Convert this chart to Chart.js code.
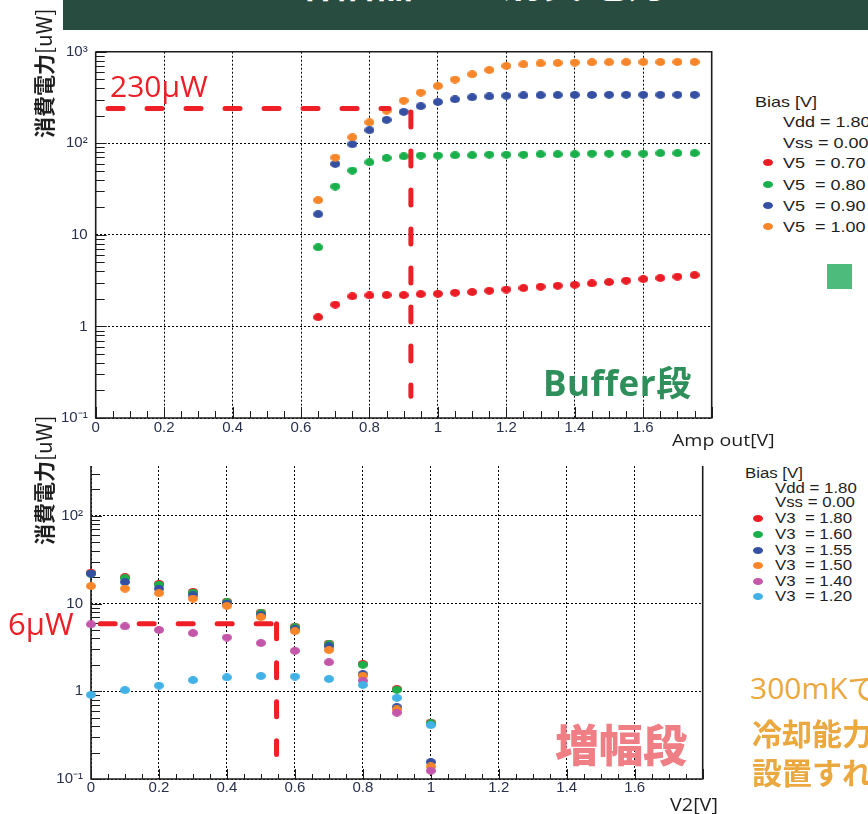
<!DOCTYPE html>
<html><head><meta charset="utf-8">
<script src="https://cdn.jsdelivr.net/npm/chart.js@4.4.1/dist/chart.umd.min.js"></script>
<style>
html,body{margin:0;padding:0;background:#fff;}
body{width:868px;height:814px;position:relative;overflow:hidden;font-family:"Liberation Sans",Arial,sans-serif;}
.abs{position:absolute;white-space:pre;}
canvas{position:absolute;left:0;}
#header{position:absolute;left:63px;top:0;width:805px;height:30px;background:#294c41;overflow:hidden;}
#header span{position:absolute;left:227px;top:-42px;font:bold 42px/1 "Noto Sans CJK JP";color:#fff;white-space:pre;}
.ytitle{transform:rotate(-90deg);transform-origin:left top;font:21px/24px "Noto Sans CJK JP";color:#1e1e1e;}
.ytitle b{font-weight:bold;}
.leg{font-family:"Liberation Sans",Arial,sans-serif;line-height:1;color:#1e1e1e;transform:scaleX(1.2);transform-origin:left center;}
.dot{position:absolute;border-radius:50%;}
</style></head>
<body>
<canvas id="top" width="740" height="445" style="top:0"></canvas>
<canvas id="bot" width="740" height="369" style="top:445px"></canvas>
<div id="header"><span>増幅器　の消費電力を</span></div>
<div id="overlay"></div>
<script>
// ================= DATA =================
// Buffer stage (top): x = Amp out [V], y = power [uW]
const ampOut = [0.65,0.70,0.75,0.80,0.85,0.90,0.95,1.00,1.05,1.10,1.15,1.20,1.25,1.30,1.35,1.40,1.45,1.50,1.55,1.60,1.65,1.70,1.75];
const bufV5_070 = [1.26,1.73,2.13,2.18,2.20,2.20,2.25,2.27,2.33,2.37,2.45,2.53,2.62,2.71,2.78,2.85,2.95,3.05,3.16,3.29,3.37,3.49,3.63];
const bufV5_080 = [7.3,33.7,50.3,62,69,72,73.4,73.4,74,74,75,75,75,76,76,76,77,77,77,77,78,78,78];
const bufV5_090 = [16.8,59.4,97.5,139,180,220,254,282,302,318,325,330,333,335,336,337,337,338,338,338,338,338,338];
const bufV5_100 = [23.9,69.8,116,169,227,292,357,422,496,566,631,698,728,745,752,760,765,767,768,770,770,771,772];
const bufferSeriesLabels = ['V5  = 0.70','V5  = 0.80','V5  = 0.90','V5  = 1.00'];

// Amplifier stage (bottom): x = V2 [V], y = power [uW]
const v2 = [0,0.1,0.2,0.3,0.4,0.5,0.6,0.7,0.8,0.9,1.0];
const ampV3_180 = [22.5,20.0,16.8,13.6,10.5,7.9,5.45,3.5,2.05,1.06,0.44];
const ampV3_160 = [22.0,19.5,16.4,13.3,10.3,7.76,5.34,3.42,2.0,1.04,0.43];
const ampV3_155 = [21.9,17.6,14.8,12.4,10.0,7.4,5.1,3.24,1.57,0.66,0.156];
const ampV3_150 = [15.8,14.8,13.1,11.4,9.4,7.0,4.84,2.95,1.5,0.62,0.139];
const ampV3_140 = [5.8,5.5,5.0,4.6,4.1,3.54,2.89,2.14,1.32,0.57,0.124];
const ampV3_120 = [0.91,1.03,1.16,1.34,1.44,1.49,1.47,1.38,1.18,0.84,0.41];
const ampSeriesLabels = ['V3  = 1.80','V3  = 1.60','V3  = 1.55','V3  = 1.50','V3  = 1.40','V3  = 1.20'];

const biasLines = ['Vdd = 1.80','Vss = 0.00'];

// Axis ticks
const xTickValues = [0,0.05,0.1,0.15,0.2,0.25,0.3,0.35,0.4,0.45,0.5,0.55,0.6,0.65,0.7,0.75,0.8,0.85,0.9,0.95,1.0,1.05,1.1,1.15,1.2,1.25,1.3,1.35,1.4,1.45,1.5,1.55,1.6,1.65,1.7,1.75,1.8];
const xLabelValues = [0,0.2,0.4,0.6,0.8,1.0,1.2,1.4,1.6];
const xTickLabels = ['0','0.2','0.4','0.6','0.8','1','1.2','1.4','1.6'];
const yTickValuesTop = [0.1,0.2,0.3,0.4,0.5,0.6,0.7,0.8,0.9,1,2,3,4,5,6,7,8,9,10,20,30,40,50,60,70,80,90,100,200,300,400,500,600,700,800,900,1000];
const yTickValuesBot = [0.1,0.2,0.3,0.4,0.5,0.6,0.7,0.8,0.9,1,2,3,4,5,6,7,8,9,10,20,30,40,50,60,70,80,90,100,200,300];
const yDecadeValues = [0.1,1,10,100,1000];
const yDecadeLabels = ['10⁻¹','1','10','10²','10³'];

// Reference markers (red dashed guides)
const bufferGuideLevel = 240;            // uW
const bufferGuideRange = [0.036,0.857];  // V
const bufferGuideVolt = 0.921;           // V
const bufferGuideDrop = [220,0.173];     // uW
const ampGuideLevel = 5.9;
const ampGuideRange = [0.027,0.553];
const ampGuideVolt = 0.546;
const ampGuideDrop = [5.9,0.19];

// ================= STYLE =================
const COLORS_BUF = ['#ec1c24','#19b04b','#3550a3','#f7862a'];
const COLORS_AMP = ['#ec1c24','#19b04b','#3550a3','#f7862a','#c456a9','#41b1e6'];
const GUIDE = '#ee1f26';
const TICK_COLOR = '#28304c';

function dotImg(color){
  const c=document.createElement('canvas'); c.width=10; c.height=8;
  const g=c.getContext('2d'); g.fillStyle=color; g.beginPath();
  g.ellipse(5,4,5,3.9,0,0,Math.PI*2); g.fill(); return c;
}
const isDecade = v => Math.abs(Math.log10(v)-Math.round(Math.log10(v)))<1e-6;
const isMajorX = v => Math.abs(v*5-Math.round(v*5))<1e-6;

const rootFrame = {
  id:'rootFrame',
  beforeDatasetsDraw(chart,args,o){
    const {ctx,chartArea:a}=chart; const x=chart.scales.x, y=chart.scales.y;
    ctx.save(); ctx.strokeStyle='#1c1c1c'; ctx.lineWidth=1; ctx.beginPath();
    y.ticks.forEach(t=>{ const py=Math.round(y.getPixelForValue(t.value))+0.5;
      if(py<a.top-1||py>a.bottom+1) return;
      const L=isDecade(t.value)?o.yMajor:o.yMinor; ctx.moveTo(a.left,py); ctx.lineTo(a.left+L,py);});
    x.ticks.forEach(t=>{ const px=Math.round(x.getPixelForValue(t.value))+0.5;
      const L=isMajorX(t.value)?o.xMajor:o.xMinor; ctx.moveTo(px,a.bottom); ctx.lineTo(px,a.bottom-L);});
    ctx.stroke();
    ctx.lineWidth=1.6; ctx.beginPath();
    ctx.moveTo(a.left,a.top); ctx.lineTo(a.left,a.bottom); ctx.lineTo(a.right,a.bottom); ctx.lineTo(a.right,a.top);
    if(o.top) ctx.lineTo(a.left,a.top);
    ctx.stroke(); ctx.restore();
  }
};

function scales(yMax,yTicks,yW,xH,xPad){
  return {
    x:{type:'linear',min:0,max:1.8,
      afterBuildTicks:s=>{s.ticks=xTickValues.map(v=>({value:v}));},
      afterFit:s=>{s.height=xH;},
      ticks:{autoSkip:false,maxRotation:0,minRotation:0,padding:xPad,color:TICK_COLOR,font:{family:'Liberation Sans',size:15},
        callback:v=>{const i=xLabelValues.findIndex(w=>Math.abs(w-v)<1e-6); return i<0?'':xTickLabels[i];}},
      grid:{color:c=>(c.tick&&isMajorX(c.tick.value))?'#000':'rgba(0,0,0,0)',lineWidth:1,drawTicks:false,borderDash:[2,2]},
      border:{display:false,dash:[2,2]}},
    y:{type:'logarithmic',min:0.1,max:yMax,
      afterBuildTicks:s=>{s.ticks=yTicks.map(v=>({value:v}));},
      afterFit:s=>{s.width=yW;},
      ticks:{autoSkip:false,padding:8,color:TICK_COLOR,font:{family:'Liberation Sans',size:15},
        callback:v=>{const i=yDecadeValues.findIndex(w=>Math.abs(w-v)<1e-9*Math.max(1,w)); return i<0?'':yDecadeLabels[i];}},
      grid:{color:c=>(c.tick&&isDecade(c.tick.value))?'#000':'rgba(0,0,0,0)',lineWidth:1,drawTicks:false,borderDash:[2,2]},
      border:{display:false,dash:[2,2]}}
  };
}
function pointSet(xs,ys,color,order){
  return {data:xs.map((x,i)=>({x,y:ys[i]})),pointStyle:dotImg(color),pointRadius:5,pointHoverRadius:5,showLine:false,order,clip:false};
}
function guideSet(pts){
  return {data:pts,showLine:true,borderColor:GUIDE,borderWidth:5,borderDash:[15,24],borderCapStyle:'round',pointRadius:0,order:0,clip:false};
}
const commonOpts = {responsive:false,animation:false,devicePixelRatio:1,events:[],
  plugins:{legend:{display:false},tooltip:{enabled:false}}};

// ---- Top chart (Buffer stage) ----
const bufSeries=[bufV5_070,bufV5_080,bufV5_090,bufV5_100];
new Chart(document.getElementById('top'),{
  type:'scatter',
  data:{datasets:[
    ...bufSeries.map((s,i)=>pointSet(ampOut,s,COLORS_BUF[i],4-i)),
    guideSet([{x:bufferGuideRange[0],y:bufferGuideLevel},{x:bufferGuideRange[1],y:bufferGuideLevel}]),
    guideSet([{x:bufferGuideVolt,y:bufferGuideDrop[0]},{x:bufferGuideVolt,y:bufferGuideDrop[1]}])
  ]},
  options:{...commonOpts,layout:{padding:{top:51.7,right:28.3,left:0,bottom:0}},
    scales:scales(1000,yTickValuesTop,95.7,27,1),
    plugins:{...commonOpts.plugins,rootFrame:{top:true,yMajor:11,yMinor:9,xMajor:11,xMinor:7}}},
  plugins:[rootFrame]
});

// ---- Bottom chart (Amplifier stage) ----
const ampSeries=[ampV3_180,ampV3_160,ampV3_155,ampV3_150,ampV3_140,ampV3_120];
new Chart(document.getElementById('bot'),{
  type:'scatter',
  data:{datasets:[
    ...ampSeries.map((s,i)=>pointSet(v2,s,COLORS_AMP[i],6-i)),
    guideSet([{x:ampGuideRange[0],y:ampGuideLevel},{x:ampGuideRange[1],y:ampGuideLevel}]),
    guideSet([{x:ampGuideVolt,y:ampGuideDrop[0]},{x:ampGuideVolt,y:ampGuideDrop[1]}])
  ]},
  options:{...commonOpts,layout:{padding:{top:21,right:37.3,left:0,bottom:0}},
    scales:scales(370,yTickValuesBot,91,35,0),
    plugins:{...commonOpts.plugins,rootFrame:{top:false,yMajor:11,yMinor:9,xMajor:10,xMinor:5}}},
  plugins:[rootFrame]
});

// ================= HTML TEXT OVERLAY =================
const ov=document.getElementById('overlay');
function txt(s,left,top,css){const d=document.createElement('div');d.className='abs';d.textContent=s;d.style.left=left+'px';d.style.top=top+'px';d.style.cssText+=css||'';ov.appendChild(d);return d;}
function ytitle(bottom){const d=document.createElement('div');d.className='abs ytitle';d.innerHTML='<b>消費電力</b>[uW]';d.style.left='31px';d.style.top=bottom+'px';ov.appendChild(d);}
ytitle(138); ytitle(545);

// Legends
function legend(x0,xText,xDot,rows,fs,labels,colors){
  const lg=(s,l,cy)=>{const d=txt(s,l,cy-fs*0.49,'');d.classList.add('leg');d.style.fontSize=fs+'px';};
  lg('Bias [V]',x0,rows[0]);
  biasLines.forEach((b,i)=>lg(b,xText,rows[1+i]));
  labels.forEach((s,i)=>{const cy=rows[3+i]; lg(s,xText,cy);
    const d=document.createElement('div');d.className='dot';d.style.cssText+=`left:${xDot-5}px;top:${cy-3.5}px;width:10px;height:7px;background:${colors[i]}`;ov.appendChild(d);});
}
legend(755,783,768,[101,121.5,142,162,184,205,226],15,bufferSeriesLabels,COLORS_BUF);
legend(745,775,758,[473,488,502,518,534,550,565,581,596],14,ampSeriesLabels,COLORS_AMP);

// Axis titles
txt('Amp out[V]',672,431,'font:17px/1 "Open Sans";color:#1e1e1e;transform:scaleX(1.15);transform-origin:left top;');
txt('V2[V]',670,795,'font:18px/1 "Open Sans";color:#1e1e1e;transform:scaleX(1.1);transform-origin:left top;');

// Annotations
txt('230μW',110,71,'font:30px/1 "Open Sans";color:#ec1f26;');
txt('6μW',8,608,'font:31px/1 "Open Sans";color:#ec1f26;');
txt('Buffer段',543,365,'font:bold 35px/1 "Open Sans","Noto Sans CJK JP";color:#2e8f5a;letter-spacing:0.5px;');
txt('増幅段',555,721,'font:900 44px/1 "Noto Sans CJK JP";color:#f07e85;');
txt('300mKで',750,673,'font:30px/1 "Open Sans","Noto Sans CJK JP";color:#eaa83f;');
txt('冷却能力',752,717,'font:bold 30px/1 "Noto Sans CJK JP";color:#eaa83f;');
txt('設置すれ',752,756,'font:bold 30px/1 "Noto Sans CJK JP";color:#eaa83f;');
const sq=document.createElement('div');sq.style.cssText='position:absolute;left:827px;top:264px;width:25px;height:25px;background:#4dbb7b;';ov.appendChild(sq);
</script>
</body></html>
